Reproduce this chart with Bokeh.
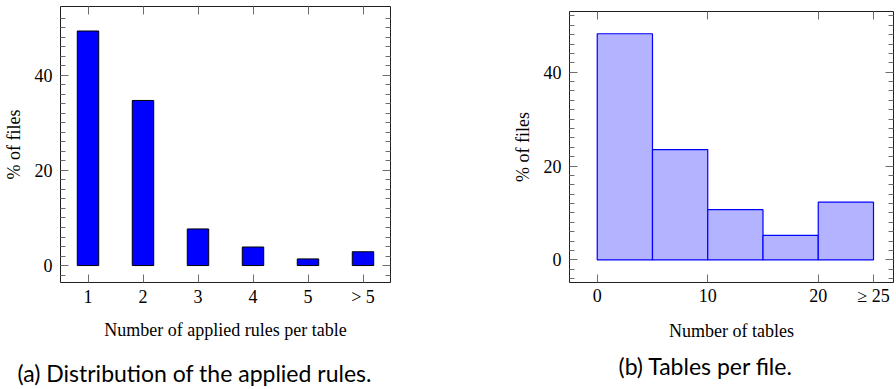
from bokeh.plotting import figure
from bokeh.models import (Range1d, FactorRange, FixedTicker, LinearAxis, CategoricalAxis, Title)
from bokeh.layouts import row
from bokeh.embed import file_html
from bokeh.resources import INLINE

# ---- data (a) ----
rule_counts = ["1", "2", "3", "4", "5", "> 5"]
rule_pct = [49.3, 34.7, 7.7, 3.9, 1.4, 2.9]

# ---- data (b) ----
table_left = [0, 5, 10, 15, 20]
table_right = [5, 10, 15, 20, 25]
table_pct = [48.2, 23.5, 10.7, 5.2, 12.3]
table_ticks = [0, 10, 20, 25]
table_tick_labels = ["0", "10", "20", "\u2265 25"]

y_ticks = [0, 20, 40]

caption_a = "(a) Distribution of the applied rules."
caption_b = "(b) Tables per file."

SERIF = "Liberation Serif"
SANS = "Lato"
FS = "18px"
CAP_FS = "23px"
TICK_COLOR = "#6e6e6e"
FRAME_COLOR = "#202020"


def style_axis(ax, label_visible=True):
    ax.axis_line_color = None
    ax.major_tick_line_color = TICK_COLOR
    ax.minor_tick_line_color = TICK_COLOR
    ax.major_tick_line_width = 1
    ax.minor_tick_line_width = 1
    ax.major_tick_out = 0
    ax.minor_tick_out = 0
    ax.major_tick_in = 8
    ax.minor_tick_in = 5
    ax.major_label_text_font = SERIF
    ax.axis_label_text_font = SERIF
    ax.axis_label_text_font_size = FS
    ax.axis_label_text_font_style = "normal"
    ax.axis_label_text_color = "black"
    if label_visible:
        ax.major_label_text_font_size = FS
        ax.major_label_text_color = "black"
    else:
        ax.major_label_text_font_size = "0px"
        ax.major_label_text_color = None
        ax.major_label_standoff = 0
        ax.axis_label_standoff = 0


def caption(p, text, offset, gap, standoff):
    spacer = Title(text=" ", text_font_size="1px", standoff=gap)
    p.add_layout(spacer, "below")
    cap = Title(text=text, align="left", offset=offset, text_font=SANS,
                text_font_size=CAP_FS, text_font_style="normal",
                text_color="black", standoff=standoff)
    p.add_layout(cap, "below")


minor_y = [v for v in range(-4, 54, 2) if v not in y_ticks]

# ---------------- figure (a) ----------------
p1 = figure(width=476, height=394, x_range=FactorRange(*rule_counts),
            y_range=Range1d(-3.56, 54.45), output_backend="svg",
            toolbar_location=None, min_border_left=58, min_border_right=86,
            min_border_top=5, min_border_bottom=107, x_axis_location=None,
            y_axis_location=None)
p1.margin = (-5, 0, 0, 0)
p1.grid.visible = False
p1.outline_line_color = FRAME_COLOR
p1.outline_line_width = 1
p1.background_fill_color = None
p1.border_fill_color = None

p1.vbar(x=rule_counts, top=rule_pct, bottom=0, width=0.39,
        fill_color="#0000ff", line_color="black", line_width=1)

xb = CategoricalAxis(axis_label="Number of applied rules per table")
style_axis(xb)
xb.major_label_standoff = 4
xb.axis_label_standoff = 10
p1.add_layout(xb, "below")
xt = CategoricalAxis()
style_axis(xt, label_visible=False)
p1.add_layout(xt, "above")

yl = LinearAxis(axis_label="% of files",
                ticker=FixedTicker(ticks=y_ticks, minor_ticks=minor_y))
style_axis(yl)
yl.major_label_standoff = 8
yl.axis_label_standoff = 8
p1.add_layout(yl, "left")
yr = LinearAxis(ticker=FixedTicker(ticks=y_ticks, minor_ticks=minor_y))
style_axis(yr, label_visible=False)
p1.add_layout(yr, "right")

caption(p1, caption_a, -43, 9, 4)

# ---------------- figure (b) ----------------
p2 = figure(width=420, height=389, x_range=Range1d(-2.51, 26.81),
            y_range=Range1d(-4.83, 52.94), output_backend="svg",
            toolbar_location=None, min_border_left=93, min_border_right=3,
            min_border_top=11, min_border_bottom=103, x_axis_location=None,
            y_axis_location=None)
p2.grid.visible = False
p2.outline_line_color = FRAME_COLOR
p2.outline_line_width = 1
p2.background_fill_color = None
p2.border_fill_color = None

p2.quad(left=table_left, right=table_right, bottom=0, top=table_pct,
        fill_color="#b3b3ff", line_color="#0000ff", line_width=1.2)

xb2 = LinearAxis(axis_label="Number of tables",
                 ticker=FixedTicker(ticks=table_ticks, minor_ticks=[]))
xb2.major_label_overrides = {t: s for t, s in zip(table_ticks, table_tick_labels)}
style_axis(xb2)
xb2.major_label_standoff = 3
xb2.axis_label_standoff = 12
p2.add_layout(xb2, "below")
xt2 = LinearAxis(ticker=FixedTicker(ticks=table_ticks, minor_ticks=[]))
style_axis(xt2, label_visible=False)
p2.add_layout(xt2, "above")

yl2 = LinearAxis(axis_label="% of files",
                 ticker=FixedTicker(ticks=y_ticks, minor_ticks=minor_y))
style_axis(yl2)
yl2.major_label_standoff = 8
yl2.axis_label_standoff = 8
p2.add_layout(yl2, "left")
yr2 = LinearAxis(ticker=FixedTicker(ticks=y_ticks, minor_ticks=minor_y))
style_axis(yr2, label_visible=False)
p2.add_layout(yr2, "right")

caption(p2, caption_b, 49, 2, 2)

layout = row(p1, p2)
open("out.html", "w").write(file_html(layout, INLINE))
